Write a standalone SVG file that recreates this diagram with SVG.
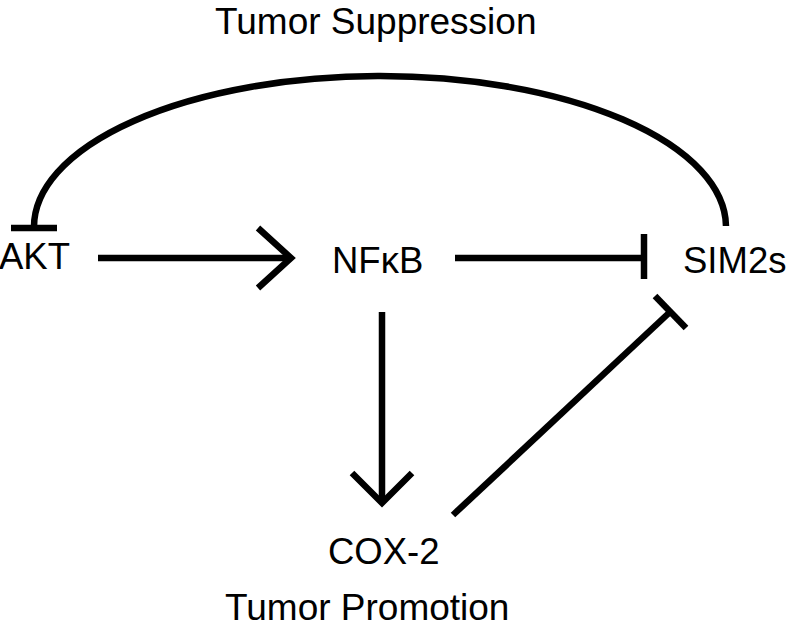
<svg xmlns="http://www.w3.org/2000/svg" width="787" height="628" viewBox="0 0 787 628">
<style>
text{font-family:"Liberation Sans",Arial,sans-serif;font-size:36.5px;fill:#000}
.title{font-size:37px}
.ln{stroke:#000;stroke-width:6.5;fill:none;stroke-linecap:butt}
</style>
<rect width="787" height="628" fill="#fff"/>
<g id="labels">
<text class="title" x="215" y="34">Tumor Suppression</text>
<text class="title" x="225" y="620">Tumor Promotion</text>
</g>
<g id="node-akt"><text x="-1" y="269">AKT</text></g>
<g id="node-nfkb"><text x="332" y="273">NFκB</text></g>
<g id="node-sim2s"><text x="683" y="273">SIM2s</text></g>
<g id="node-cox2"><text x="328" y="564">COX-2</text></g>
<g id="connectors">
<path class="ln" d="M34,228 A346,151 0 0 1 726,226"/>
<path class="ln" d="M11,228 H57"/>
<path class="ln" d="M98,258 H290"/>
<path class="ln" d="M258,228 L291,258 L258,288"/>
<path class="ln" d="M455,258 H644"/>
<path class="ln" d="M644,234 V279"/>
<path class="ln" d="M382,312 V501"/>
<path class="ln" d="M352,473 L382,503 L412,473"/>
<path class="ln" d="M453,515 L670,312"/>
<path class="ln" d="M655,296 L686,328"/>
</g>
</svg>
